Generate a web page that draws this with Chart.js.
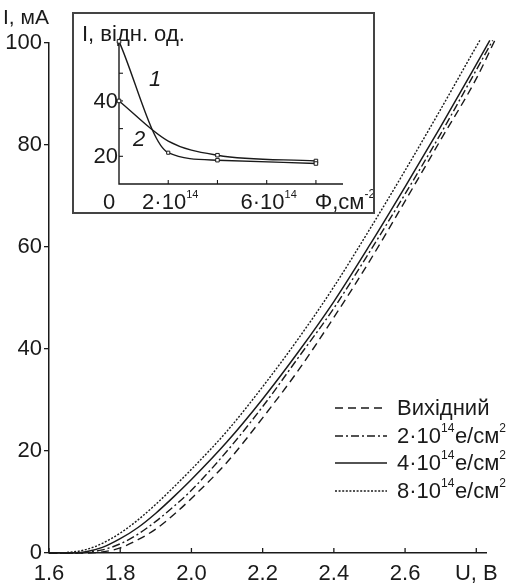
<!DOCTYPE html>
<html>
<head>
<meta charset="utf-8">
<script src="https://cdn.jsdelivr.net/npm/chart.js@4.4.1/dist/chart.umd.min.js"></script>
<style>
  html, body { margin: 0; padding: 0; background: #fff; }
  #wrap { position: relative; width: 506px; height: 587px; }
  #main { position: absolute; left: 0; top: 0; }
  #insetBox { position: absolute; left: 72px; top: 12px; width: 299px; height: 198px;
              border: 2px solid #444; background: #fff; }
  #inset { position: absolute; left: 0; top: 0; }
</style>
</head>
<body>
<div id="wrap">
  <canvas id="main" width="506" height="587"></canvas>
  <div id="insetBox"><canvas id="inset" width="299" height="198"></canvas></div>
</div>
<script>
// ---------- Main chart data ----------
const uGrid = [1.60, 1.65, 1.70, 1.75, 1.80, 1.85, 1.90, 1.95, 2.00, 2.10, 2.20, 2.30, 2.40, 2.50, 2.60, 2.70, 2.80];
const iInitial = [0, 0, 0, 0.2, 1.0, 2.6, 4.7, 7.5, 10.7, 17.8, 26.5, 35.8, 46.2, 57.2, 69.0, 81.0, 93.0];
const i2e14    = [0, 0, 0.1, 0.6, 1.8, 3.7, 6.2, 9.1, 12.3, 20.0, 28.7, 38.3, 48.0, 59.0, 70.4, 82.2, 94.7];
const i4e14    = [0, 0, 0.2, 1.1, 2.8, 5.0, 7.8, 11.0, 14.4, 21.8, 30.2, 39.4, 49.3, 60.3, 71.8, 83.6, 95.8];
const i8e14    = [0, 0.1, 0.6, 1.9, 3.9, 6.5, 9.55, 12.9, 16.4, 23.9, 32.6, 42.0, 52.2, 63.4, 75.0, 87.0, 99.3];
// last point of each curve (where it leaves the top of the plot)
const endInitial = [2.852, 100.5];
const end2e14    = [2.846, 100.5];
const end4e14    = [2.838, 100.5];
const end8e14    = [2.810, 100.5];
const seriesNames = ['Вихідний', '2·10|14|e/см|2', '4·10|14|e/см|2', '8·10|14|e/см|2'];
const xTicks = [1.6, 1.8, 2.0, 2.2, 2.4, 2.6, 2.8];
const yTicks = [0, 20, 40, 60, 80, 100];

// ---------- Inset data ----------
const fluence = [0, 2, 4, 8];            // x 10^14 cm^-2
const rel1 = [61.5, 21.3, 18.6, 17.4];   // curve 1
const rel2 = [40.0, 25.5, 20.4, 18.3];   // curve 2
const insetXTicks = [2, 4, 6, 8];
const insetYTicks = [20, 30, 40, 50];

const FONT = '"Liberation Sans", Arial, Helvetica, sans-serif';
const INK = '#1a1a1a';

function pts(us, is, end) {
  const a = us.map((u, k) => ({x: u, y: is[k]}));
  a.push({x: end[0], y: end[1]});
  return a;
}

const dashes = [[8, 5], [8, 3, 2, 3], [], [2, 1.6]];
const datasetsRaw = [[iInitial, endInitial], [i2e14, end2e14], [i4e14, end4e14], [i8e14, end8e14]];

const mainDatasets = datasetsRaw.map((d, k) => ({
  label: seriesNames[k],
  data: pts(uGrid, d[0], d[1]),
  borderColor: INK,
  borderWidth: k === 2 ? 1.5 : 1.4,
  borderDash: dashes[k],
  pointRadius: 0,
  fill: false,
  cubicInterpolationMode: 'monotone',
  clip: false
}));

function drawSupText(ctx, x, y, str, big, small) {
  const parts = str.split('|');
  let cx = x;
  parts.forEach((p, i) => {
    const sup = i % 2 === 1;
    ctx.font = (sup ? small : big) + 'px ' + FONT;
    ctx.textBaseline = 'middle';
    ctx.textAlign = 'left';
    ctx.fillText(p, cx, sup ? y - 8 : y);
    cx += ctx.measureText(p).width + (sup ? 0.5 : 0);
  });
}

const mainDecor = {
  id: 'mainDecor',
  afterDraw(chart) {
    const ctx = chart.ctx;
    const xs = chart.scales.x, ys = chart.scales.y;
    ctx.save();
    ctx.strokeStyle = INK;
    ctx.fillStyle = INK;
    ctx.lineWidth = 1.3;
    xTicks.forEach(v => {
      const px = xs.getPixelForValue(v);
      ctx.beginPath();
      ctx.moveTo(px, ys.bottom);
      ctx.lineTo(px, ys.bottom - 5);
      ctx.stroke();
    });
    ctx.font = '21px ' + FONT;
    ctx.textAlign = 'left';
    ctx.textBaseline = 'middle';
    ctx.fillText('I, мА', 3, 18);
    const legY = [408, 436, 463, 491];
    for (let k = 0; k < 4; k++) {
      ctx.beginPath();
      ctx.setLineDash(dashes[k]);
      ctx.lineWidth = 1.4;
      ctx.moveTo(335, legY[k]);
      ctx.lineTo(387, legY[k]);
      ctx.stroke();
      ctx.setLineDash([]);
      drawSupText(ctx, 397, legY[k] + 1, seriesNames[k], 22, 12);
    }
    ctx.restore();
  }
};

new Chart(document.getElementById('main'), {
  type: 'line',
  data: { datasets: mainDatasets },
  options: {
    responsive: false,
    animation: false,
    devicePixelRatio: 1,
    layout: { padding: { top: 43, right: 13, left: 0, bottom: 0 } },
    plugins: { legend: { display: false }, tooltip: { enabled: false } },
    scales: {
      x: {
        type: 'linear', min: 1.6, max: 2.83,
        afterFit(s) { s.height = 34; },
        afterBuildTicks(s) { s.ticks = xTicks.map(v => ({value: v})); },
        grid: { display: true, drawOnChartArea: false, drawTicks: false },
        border: { color: INK, width: 1.5 },
        ticks: {
          padding: 8, color: INK, font: { family: FONT, size: 22 },
          maxRotation: 0, autoSkip: false,
          callback: v => Math.abs(v - 2.8) < 1e-6 ? 'U, B' : v.toFixed(1)
        }
      },
      y: {
        type: 'linear', min: 0, max: 100,
        afterFit(s) { s.width = 49; },
        afterBuildTicks(s) { s.ticks = yTicks.map(v => ({value: v})); },
        grid: { display: true, drawOnChartArea: false, tickLength: 5, color: INK, lineWidth: 1.3 },
        border: { color: INK, width: 1.5 },
        ticks: { padding: 2, color: INK, font: { family: FONT, size: 22 } }
      }
    }
  },
  plugins: [mainDecor]
});

// ---------- Inset ----------
const insetDecor = {
  id: 'insetDecor',
  beforeDatasetsDraw(chart) {
    const ctx = chart.ctx;
    const xs = chart.scales.x, ys = chart.scales.y;
    ctx.save();
    ctx.strokeStyle = INK;
    ctx.fillStyle = INK;
    ctx.lineWidth = 1.4;
    ctx.beginPath();
    ctx.moveTo(xs.left, ys.top);
    ctx.lineTo(xs.left, ys.bottom);
    ctx.lineTo(xs.right, ys.bottom);
    ctx.stroke();
    ctx.lineWidth = 1.1;
    insetXTicks.forEach(v => {
      const px = xs.getPixelForValue(v);
      ctx.beginPath(); ctx.moveTo(px, ys.bottom); ctx.lineTo(px, ys.bottom - 4); ctx.stroke();
    });
    insetYTicks.forEach(v => {
      const py = ys.getPixelForValue(v);
      ctx.beginPath(); ctx.moveTo(xs.left, py); ctx.lineTo(xs.left + 4, py); ctx.stroke();
    });
    ctx.font = '22px ' + FONT;
    ctx.textBaseline = 'middle';
    ctx.textAlign = 'right';
    [20, 40].forEach(v => ctx.fillText(String(v), xs.left - 1, ys.getPixelForValue(v) + 1));
    ctx.textAlign = 'center';
    const ly = ys.bottom + 19;
    ctx.fillText('0', xs.getPixelForValue(0) - 10, ly);
    [2, 6].forEach(v => {
      const txt = v + '·10';
      ctx.font = '22px ' + FONT;
      const w1 = ctx.measureText(txt).width;
      ctx.font = '11px ' + FONT;
      const w2 = ctx.measureText('14').width;
      const x0 = xs.getPixelForValue(v) - (w1 + w2) / 2 + 2;
      drawSupText(ctx, x0, ly, txt + '|14', 22, 11);
    });
    drawSupText(ctx, xs.getPixelForValue(7.95), ly, 'Φ,см|-2', 22, 12);
    ctx.font = '22px ' + FONT;
    ctx.textAlign = 'left';
    ctx.fillText('I, відн. од.', 8, 21);
    ctx.font = 'italic 22px ' + FONT;
    ctx.textAlign = 'center';
    ctx.fillText('1', 81, 66);
    ctx.fillText('2', 65, 126);
    ctx.restore();
  }
};

new Chart(document.getElementById('inset'), {
  type: 'line',
  data: {
    datasets: [
      { data: fluence.map((f, k) => ({x: f, y: rel1[k]})), borderColor: INK, borderWidth: 1.4,
        pointStyle: 'rect', pointRadius: [2.5, 2.2, 2.5, 2.5], pointBackgroundColor: '#fff',
        pointBorderColor: INK, pointBorderWidth: 1, cubicInterpolationMode: 'monotone', clip: false },
      { data: fluence.map((f, k) => ({x: f, y: rel2[k]})), borderColor: INK, borderWidth: 1.4,
        pointStyle: 'rect', pointRadius: [2.5, 0, 2.5, 2.5], pointBackgroundColor: '#fff',
        pointBorderColor: INK, pointBorderWidth: 1, cubicInterpolationMode: 'monotone', clip: false }
    ]
  },
  options: {
    responsive: false,
    animation: false,
    devicePixelRatio: 1,
    layout: { padding: { left: 45, top: 26, right: 30, bottom: 28 } },
    plugins: { legend: { display: false }, tooltip: { enabled: false } },
    scales: {
      x: { type: 'linear', display: false, min: 0, max: 9.1 },
      y: { type: 'linear', display: false, min: 10, max: 62 }
    }
  },
  plugins: [insetDecor]
});
</script>
</body>
</html>
